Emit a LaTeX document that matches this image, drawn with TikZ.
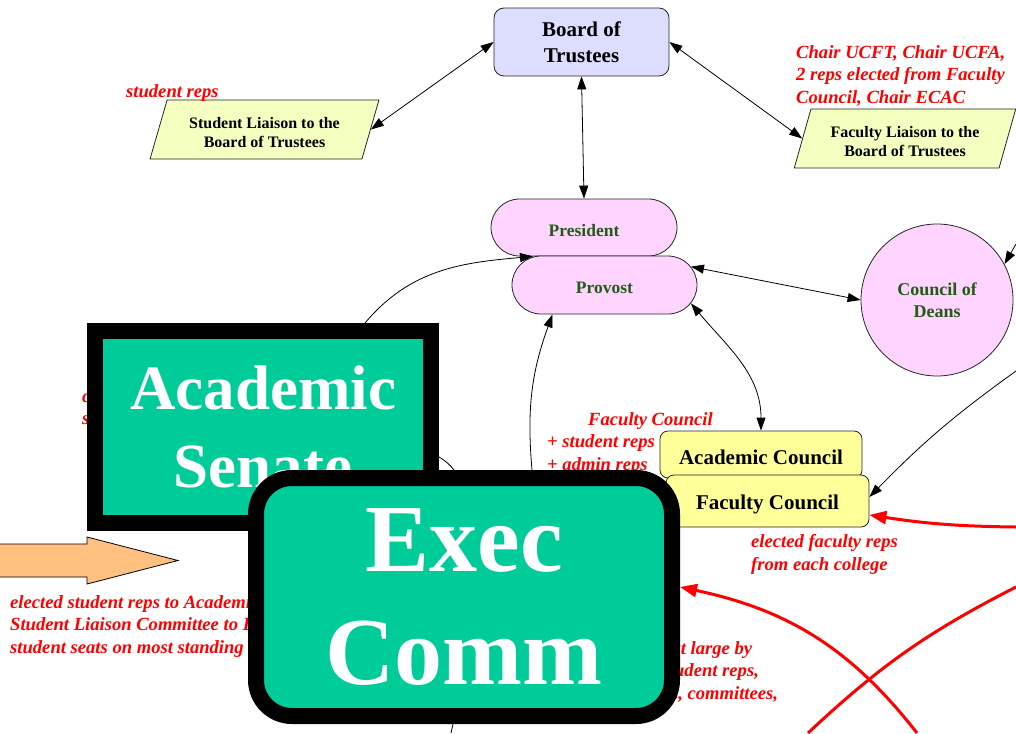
\documentclass[tikz,border=0pt]{standalone}
\usepackage{fontspec}
\setmainfont{Liberation Serif}
\usepackage{xcolor}
\usepackage{tikz}
\usetikzlibrary{arrows.meta,positioning,shapes.geometric,shapes.misc}
\definecolor{boardblue}{HTML}{DDDDFF}
\definecolor{liaisongreen}{HTML}{F5FFC0}
\definecolor{officepink}{HTML}{FFD4FF}
\definecolor{officegreen}{HTML}{245A18}
\definecolor{councilyellow}{HTML}{FFFF99}
\definecolor{senateteal}{HTML}{00CC99}
\definecolor{studentorange}{HTML}{FFC080}
\pgfdeclarelayer{front}
\pgfsetlayers{main,front}

\begin{document}
\begin{tikzpicture}[x=1pt,y=-1pt,>={Triangle[length=13pt,width=9pt]},
    box/.style={draw=black!85,line width=0.8pt,align=center,inner sep=0pt,font=\bfseries},
    liaison/.style={box,trapezium,trapezium left angle=70,trapezium right angle=110,trapezium stretches=true,fill=liaisongreen,text height=36pt,font=\fontsize{16}{19}\selectfont\bfseries},
    office/.style={box,fill=officepink,text=officegreen,font=\fontsize{17.5}{22}\selectfont\bfseries},
    council/.style={box,rounded corners=8pt,fill=councilyellow,text height=21pt,font=\fontsize{21}{25}\selectfont\bfseries},
    bigbox/.style={draw=black,line width=16pt,fill=senateteal,text=white,align=center,inner sep=0pt},
    link/.style={line width=0.8pt},
    redlink/.style={red,line width=3pt,>={Triangle[length=17pt,width=13pt]}},
    note/.style={text=red,align=left,inner sep=0pt,anchor=north west,font=\fontsize{18.6}{22.8}\selectfont\bfseries\itshape}]
  \useasboundingbox (0,0) rectangle (1016,733);
  % trustees and liaisons
  \node[box,rounded corners=10pt,fill=boardblue,minimum width=175pt,minimum height=68pt,font=\fontsize{21}{26}\selectfont\bfseries] (board) at (581.5,42) {Board of\\Trustees};
  \node[liaison,minimum width=229pt,minimum height=59pt] (stuliaison) at (264.5,129.5) {Student Liaison to the\\Board of Trustees};
  \node[liaison,minimum width=222pt,minimum height=59pt] (facliaison) at (905,138.5) {Faculty Liaison to the\\Board of Trustees};
  % administration
  \node[office,rounded rectangle,text height=18pt,minimum width=186pt,minimum height=57pt] (president) at (584,227.5) {President};
  \node[office,rounded rectangle,text height=18pt,minimum width=185pt,minimum height=58pt] (provost) at (604.5,285) {Provost};
  \node[office,circle,minimum size=152pt,font=\fontsize{18}{22}\selectfont\bfseries] (deans) at (937,300) {Council of\\Deans};
  % councils
  \node[council,minimum width=202pt,minimum height=47pt] (acouncil) at (761,454.5) {Academic Council};
  \node[council,minimum width=203pt,minimum height=52pt] (fcouncil) at (767.5,501) {Faculty Council};
  % big overlay boxes
  \begin{pgfonlayer}{front}
    \node[bigbox,minimum width=336pt,minimum height=192pt,font=\fontsize{63}{78}\selectfont\bfseries] (senate) at (263,427) {Academic\\Senate};
    \node[bigbox,rounded corners=36pt,minimum width=416pt,minimum height=238pt,font=\fontsize{96}{113}\selectfont\bfseries] (execcomm) at (464,597) {Exec\\Comm};
  \end{pgfonlayer}
  % free ends at the border
  \coordinate (deansfeed) at (1016,244);
  \coordinate (facfeed) at (1016,371);
  \coordinate (facvote) at (1016,527);
  \coordinate (atlargevote) at (917,733);
  \coordinate (crossvote) at (808,733);
  \coordinate (crossend) at (1016,587);
  \coordinate (belowexec) at (451,733);
  % links
  \draw[link,<->] (board.west) -- (stuliaison.east);
  \draw[link,<->] (board.east) -- (facliaison.west);
  \draw[link,<->] (board.south) -- (president.north);
  \draw[link,<->] (provost.12) -- (deans.west);
  \draw[link,<->] (provost.-12) to[out=-50,in=90] (acouncil.north);
  \draw[link,->] ([xshift=68pt]execcomm.north) to[out=95,in=-110] ([xshift=-52pt]provost.south);
  \draw[link,->] ([xshift=102pt]senate.north) to[out=50,in=185] ([xshift=-51pt]president.south);
  \draw[link] ([yshift=-30pt]senate.east) to[bend left=10] ([xshift=-10pt]execcomm.north);
  \draw[link] ([xshift=-11pt]execcomm.south) -- (belowexec);
  \draw[link,->] (deansfeed) -- (deans.28);
  \draw[link,->] (facfeed) to[bend right=5] ([yshift=4pt]fcouncil.east);
  % elections
  \draw[redlink,->] (facvote) to[bend left=4] ([yshift=-14pt]fcouncil.east);
  \draw[redlink,->] (atlargevote) to[out=128,in=-12] ([yshift=10pt]execcomm.east);
  \draw[redlink] (crossvote) to[bend left=8] (crossend);
  % student input
  \draw[fill=studentorange,line width=0.8pt] (0,544) -- (87,544) -- (87,537) -- (178,560.5) -- (87,584) -- (87,577) -- (0,577);
  % membership notes
  \node[note] (stunote) at (126,84) {student reps};
  \node[note] (facnote) at (796,45) {Chair UCFT, Chair UCFA,\\2 reps elected from Faculty\\Council, Chair ECAC};
  \node[note] (acnote) at (547,412) {\hspace*{41pt}Faculty Council\\+ student reps\\+ admin reps};
  \node[note] (fcnote) at (751,534) {elected faculty reps\\from each college};
  \node[note] (execnote) at (614,641) {elected at large by\\and 2 student reps,\\senators, committees,};
  \node[note] (studentnote) at (10,595) {elected student reps to Academic Senate,\\Student Liaison Committee to Board,\\student seats on most standing committees};
  \node[note] (senatenote) at (82,389) {chair\\staff};
\end{tikzpicture}
\end{document}
